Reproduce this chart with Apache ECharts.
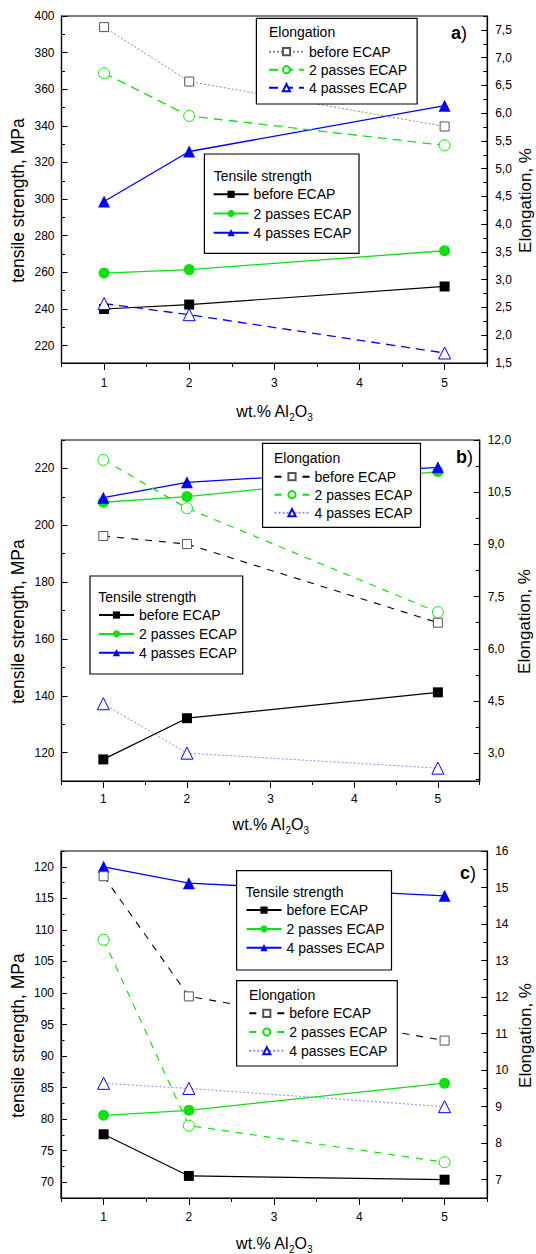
<!DOCTYPE html>
<html>
<head>
<meta charset="utf-8">
<script src="https://cdn.jsdelivr.net/npm/echarts@6/dist/echarts.min.js"></script>
<style>
  html, body { margin: 0; padding: 0; background: #fff; }
  #chart { width: 536px; height: 1254px; }
</style>
</head>
<body>
<div id="chart"></div>
<script>
var FONT = "'Liberation Sans', Arial, sans-serif";
var GREEN = '#11e011';
var BLUE = '#0000ff';
var LIGHT_BLUE = '#8a8aff';

// x positions (wt.% Al2O3)
var xValues = [1, 2, 5];
var xTicks = [1, 2, 3, 4, 5];
var xMinorTicks = [0.5, 1.5, 2.5, 3.5, 4.5, 5.5];

// --- panel a ---
var aTensBefore = [240.0, 242.4, 252.3];
var aTens2 = [259.6, 261.5, 271.8];
var aTens4 = [298.7, 326.0, 351.0];
var aElBefore = [7.55, 6.57, 5.76];
var aEl2 = [6.72, 5.95, 5.42];
var aEl4 = [2.57, 2.37, 1.68];
var aLeftTicks = [220, 240, 260, 280, 300, 320, 340, 360, 380, 400];
var aLeftMinor = [230, 250, 270, 290, 310, 330, 350, 370, 390];
var aRightTicks = [1.5, 2.0, 2.5, 3.0, 3.5, 4.0, 4.5, 5.0, 5.5, 6.0, 6.5, 7.0, 7.5];
var aRightMinor = [1.75, 2.25, 2.75, 3.25, 3.75, 4.25, 4.75, 5.25, 5.75, 6.25, 6.75, 7.25, 7.75];

// --- panel b ---
var bTensBefore = [117.6, 132.1, 141.2];
var bTens2 = [208.1, 210.1, 218.9];
var bTens4 = [209.7, 215.1, 220.4];
var bElBefore = [9.24, 9.01, 6.75];
var bEl2 = [11.43, 10.04, 7.05];
var bEl4 = [4.42, 3.0, 2.57];
var bLeftTicks = [120, 140, 160, 180, 200, 220];
var bLeftMinor = [110, 130, 150, 170, 190, 210, 230];
var bRightTicks = [3.0, 4.5, 6.0, 7.5, 9.0, 10.5, 12.0];
var bRightMinor = [2.25, 3.75, 5.25, 6.75, 8.25, 9.75, 11.25];

// --- panel c ---
var cTensBefore = [77.6, 71.0, 70.4];
var cTens2 = [80.6, 81.4, 85.7];
var cTens4 = [120.0, 117.4, 115.4];
var cElBefore = [15.31, 12.02, 10.81];
var cEl2 = [13.57, 8.48, 7.48];
var cEl4 = [9.64, 9.5, 9.0];
var cLeftTicks = [70, 75, 80, 85, 90, 95, 100, 105, 110, 115, 120];
var cLeftMinor = [67.5, 72.5, 77.5, 82.5, 87.5, 92.5, 97.5, 102.5, 107.5, 112.5, 117.5, 122.5];
var cRightTicks = [7, 8, 9, 10, 11, 12, 13, 14, 15, 16];
var cRightMinor = [6.5, 7.5, 8.5, 9.5, 10.5, 11.5, 12.5, 13.5, 14.5, 15.5];

var legendLabel = { tb: 'before ECAP', t2: '2 passes ECAP', t4: '4 passes ECAP',
                    eb: 'before ECAP', e2: '2 passes ECAP', e4: '4 passes ECAP' };

var commaFmt = function (v) { return v.toFixed(1).replace('.', ','); };
var intFmt = function (v) { return String(Math.round(v)); };

var grids = [], xAxes = [], yAxes = [], seriesList = [], legends = [], graphics = [];

function tickAxis(k, pos, min, max, ticks, len, withLine) {
  return {
    type: 'value', gridIndex: k, position: pos, min: min, max: max,
    axisLine: { show: withLine, onZero: false, lineStyle: { color: '#000', width: 1.2 } },
    axisTick: { show: true, customValues: ticks, inside: true, length: len, lineStyle: { color: '#000', width: 1 } },
    axisLabel: { show: false },
    splitLine: { show: false },
    nameMoveOverlap: false
  };
}

function line(name, xi, yi, values, st) {
  return {
    name: name, type: 'line', xAxisIndex: xi, yAxisIndex: yi,
    data: xValues.map(function (x, i) { return [x, values[i]]; }),
    symbol: st.symbol, symbolSize: st.size,
    lineStyle: st.line, itemStyle: st.item,
    emphasis: { disabled: true }, animation: false
  };
}

var tensStyles = {
  tb: { symbol: 'rect', size: 10, line: { color: '#000', width: 1.2, type: 'solid' }, item: { color: '#000' } },
  t2: { symbol: 'circle', size: 11, line: { color: GREEN, width: 1.3, type: 'solid' }, item: { color: GREEN } },
  t4: { symbol: 'triangle', size: 12, line: { color: BLUE, width: 1.3, type: 'solid' }, item: { color: BLUE } }
};
var elStylesA = {
  eb: { symbol: 'rect', size: 9, line: { color: '#8c8c8c', width: 1, type: [2, 2] }, item: { color: '#fff', borderColor: '#555', borderWidth: 1 } },
  e2: { symbol: 'circle', size: 11, line: { color: GREEN, width: 1.3, type: [9, 6] }, item: { color: '#fff', borderColor: GREEN, borderWidth: 1 } },
  e4: { symbol: 'triangle', size: 12, line: { color: BLUE, width: 1.3, type: [9, 6] }, item: { color: '#fff', borderColor: BLUE, borderWidth: 1 } }
};
var elStylesBC = {
  eb: { symbol: 'rect', size: 9, line: { color: '#000', width: 1.1, type: [7, 7] }, item: { color: '#fff', borderColor: '#555', borderWidth: 1 } },
  e2: { symbol: 'circle', size: 11, line: { color: GREEN, width: 1.2, type: [7, 7] }, item: { color: '#fff', borderColor: GREEN, borderWidth: 1 } },
  e4: { symbol: 'triangle', size: 12, line: { color: LIGHT_BLUE, width: 1, type: [2, 2] }, item: { color: '#fff', borderColor: BLUE, borderWidth: 1 } }
};

function addLegend(names, box, titleText, titleX, titleY, left, top, lh) {
  graphics.push({ type: 'rect', z: 15, shape: { x: box[0], y: box[1], width: box[2], height: box[3] },
    style: { fill: '#fff', stroke: '#000', lineWidth: 1.2 } });
  graphics.push({ type: 'text', z: 16, x: titleX, y: titleY,
    style: { text: titleText, fontSize: 14, fontFamily: FONT, fill: '#000', align: 'left', verticalAlign: 'middle', textAlign: 'left', textVerticalAlign: 'middle' } });
  legends.push({
    show: true, orient: 'vertical', left: left, top: top, padding: 0, itemGap: 0,
    itemWidth: 35, itemHeight: 9, selectedMode: false, z: 20,
    data: names,
    formatter: function (n) { return legendLabel[n.split('-')[1]]; },
    textStyle: { color: '#000', fontSize: 14, lineHeight: lh, fontFamily: FONT }
  });
}

function addPanel(k, p) {
  grids.push({ left: p.box[0], top: p.box[1], width: p.box[2], height: p.box[3],
    show: true, borderColor: '#000', borderWidth: 1.2, backgroundColor: 'transparent',
    containLabel: false, outerBoundsMode: 'none' });

  xAxes.push({
    type: 'value', gridIndex: k, position: 'bottom', min: 0.5, max: 5.5,
    axisLine: { show: true, onZero: false, lineStyle: { color: '#000', width: 1.2 } },
    axisTick: { show: true, customValues: xTicks, inside: false, length: 7, lineStyle: { color: '#000', width: 1 } },
    axisLabel: { customValues: xTicks, margin: p.xLabelMargin, color: '#000', fontSize: 12, fontFamily: FONT },
    splitLine: { show: false },
    name: 'wt.% Al{s|2}O{s|3}', nameLocation: 'middle', nameGap: p.xNameGap, nameMoveOverlap: false,
    nameTextStyle: { color: '#000', fontSize: 16, lineHeight: 22, fontFamily: FONT,
      rich: { s: { fontSize: 10, lineHeight: 12, verticalAlign: 'bottom', fontFamily: FONT, color: '#000' } } }
  });
  var xm = tickAxis(k, 'bottom', 0.5, 5.5, xMinorTicks, 4, false);
  xm.axisTick.inside = false;
  xAxes.push(xm);

  yAxes.push({
    type: 'value', gridIndex: k, position: 'left', min: p.left.min, max: p.left.max,
    axisLine: { show: true, onZero: false, lineStyle: { color: '#000', width: 1.2 } },
    axisTick: { show: true, customValues: p.left.ticks, inside: true, length: 6, lineStyle: { color: '#000', width: 1 } },
    axisLabel: { customValues: p.left.ticks, margin: 7, color: '#000', fontSize: 12, fontFamily: FONT },
    splitLine: { show: false },
    name: 'tensile strength, MPa', nameLocation: 'middle', nameRotate: 90, nameGap: p.leftNameGap, nameMoveOverlap: false,
    nameTextStyle: { color: '#000', fontSize: 17.5, fontFamily: FONT, padding: [0, 22, 0, 0] }
  });
  yAxes.push({
    type: 'value', gridIndex: k, position: 'right', min: p.right.min, max: p.right.max,
    axisLine: { show: true, onZero: false, lineStyle: { color: '#000', width: 1.2 } },
    axisTick: { show: true, customValues: p.right.ticks, inside: true, length: 6, lineStyle: { color: '#000', width: 1 } },
    axisLabel: { customValues: p.right.ticks, margin: 8, color: '#000', fontSize: 12, fontFamily: FONT, formatter: p.right.fmt },
    splitLine: { show: false },
    name: 'Elongation, %', nameLocation: 'middle', nameRotate: 90, nameGap: p.rightNameGap, nameMoveOverlap: false,
    nameTextStyle: { color: '#000', fontSize: 17, fontFamily: FONT, padding: [0, 22, 0, 0] }
  });
  yAxes.push(tickAxis(k, 'left', p.left.min, p.left.max, p.left.minor, 3.5, false));
  yAxes.push(tickAxis(k, 'right', p.right.min, p.right.max, p.right.minor, 4, false));

  var xi = 2 * k, yl = 4 * k, yr = 4 * k + 1;
  var pre = p.id + '-';
  seriesList.push(line(pre + 'tb', xi, yl, p.tens[0], tensStyles.tb));
  seriesList.push(line(pre + 't2', xi, yl, p.tens[1], tensStyles.t2));
  seriesList.push(line(pre + 't4', xi, yl, p.tens[2], tensStyles.t4));
  seriesList.push(line(pre + 'eb', xi, yr, p.el[0], p.elStyles.eb));
  seriesList.push(line(pre + 'e2', xi, yr, p.el[1], p.elStyles.e2));
  seriesList.push(line(pre + 'e4', xi, yr, p.el[2], p.elStyles.e4));

  var t = p.tensLegend, e = p.elLegend;
  addLegend([pre + 'tb', pre + 't2', pre + 't4'], t.box, 'Tensile strength', t.titleX, t.titleY, t.left, t.top, t.lh);
  addLegend([pre + 'eb', pre + 'e2', pre + 'e4'], e.box, 'Elongation', e.titleX, e.titleY, e.left, e.top, e.lh);

  graphics.push({ type: 'text', z: 16, x: p.tag[0], y: p.tag[1],
    style: { text: '{b|' + p.id + '}{n|)}', fill: '#000', verticalAlign: 'middle', textVerticalAlign: 'middle',
      rich: { b: { fontSize: 18, fontWeight: 'bold', fontFamily: FONT, fill: '#000' },
              n: { fontSize: 18, fontFamily: FONT, fill: '#000' } } } });
}

addPanel(0, {
  id: 'a', box: [61.5, 16, 425.7, 347], xLabelMargin: 14, xNameGap: 37.5, leftNameGap: 34.5, rightNameGap: 29.5,
  left: { min: 210.5, max: 400, ticks: aLeftTicks, minor: aLeftMinor },
  right: { min: 1.5, max: 7.75, ticks: aRightTicks, minor: aRightMinor, fmt: commaFmt },
  tens: [aTensBefore, aTens2, aTens4], el: [aElBefore, aEl2, aEl4], elStyles: elStylesA,
  tensLegend: { box: [204.4, 154, 154.6, 99.3], titleX: 213.7, titleY: 176, left: 212.6, top: 184.7, lh: 19.2 },
  elLegend: { box: [256.4, 18.3, 160.7, 85.7], titleX: 269, titleY: 31.7, left: 268, top: 42.7, lh: 18 },
  tag: [451, 33]
});
addPanel(1, {
  id: 'b', box: [61.5, 440, 418.2, 341], xLabelMargin: 12, xNameGap: 32, leftNameGap: 34.5, rightNameGap: 36.5,
  left: { min: 110, max: 230, ticks: bLeftTicks, minor: bLeftMinor },
  right: { min: 2.2, max: 12, ticks: bRightTicks, minor: bRightMinor, fmt: commaFmt },
  tens: [bTensBefore, bTens2, bTens4], el: [bElBefore, bEl2, bEl4], elStyles: elStylesBC,
  tensLegend: { box: [90, 576, 152.7, 98], titleX: 98.3, titleY: 596.7, left: 98, top: 605.6, lh: 18.85 },
  elLegend: { box: [262.6, 443.3, 157.9, 84], titleX: 274, titleY: 457.7, left: 273.5, top: 467.7, lh: 18 },
  tag: [456, 457]
});
addPanel(2, {
  id: 'c', box: [61, 851, 426.2, 347], xLabelMargin: 13, xNameGap: 34.6, leftNameGap: 34, rightNameGap: 29.5,
  left: { min: 67.5, max: 122.5, ticks: cLeftTicks, minor: cLeftMinor },
  right: { min: 6.5, max: 16, ticks: cRightTicks, minor: cRightMinor, fmt: intFmt },
  tens: [cTensBefore, cTens2, cTens4], el: [cElBefore, cEl2, cEl4], elStyles: elStylesBC,
  tensLegend: { box: [236.6, 870.7, 154.9, 99.3], titleX: 245.5, titleY: 891.7, left: 245.5, top: 900.6, lh: 18.85 },
  elLegend: { box: [236.6, 980.7, 160.7, 85.3], titleX: 249, titleY: 995, left: 248.3, top: 1004, lh: 18.7 },
  tag: [460, 873]
});

var chart = echarts.init(document.getElementById('chart'), null, { renderer: 'svg' });
chart.setOption({
  animation: false,
  backgroundColor: '#fff',
  textStyle: { fontFamily: FONT },
  grid: grids,
  xAxis: xAxes,
  yAxis: yAxes,
  legend: legends,
  series: seriesList,
  graphic: { elements: graphics }
});
window.addEventListener('resize', function () { chart.resize(); });
</script>
</body>
</html>
